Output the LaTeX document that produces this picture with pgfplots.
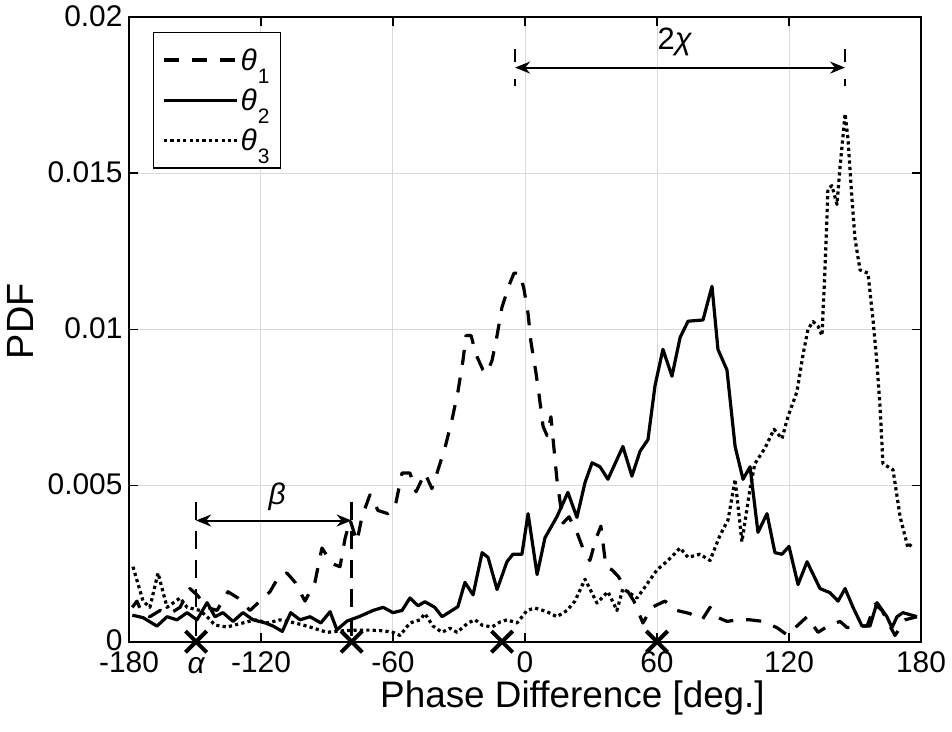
\documentclass[border=0pt]{standalone}
\usepackage{fontspec}
\setmainfont{Liberation Sans}
\usepackage{pgfplots}
\pgfplotsset{compat=1.18}
\usetikzlibrary{arrows.meta}

\newcommand{\leg}[1]{{\itshape θ}\kern1bp\raisebox{-0.45em}{\fontsize{21}{21}\selectfont #1}}

\begin{document}
\begin{tikzpicture}
\begin{axis}[
 name=ax,
 scale only axis,
 width=792bp, height=624.7bp,
 xmin=-180, xmax=180, ymin=0, ymax=0.02,
 xtick={-180,-120,-60,0,60,120,180},
 xticklabels={-180,-120,-60,0,60,120,180},
 ytick={0,0.005,0.01,0.015,0.02},
 yticklabels={0,0.005,0.01,0.015,0.02},
 scaled y ticks=false,
 tick align=inside,
 major tick length=9bp,
 ticklabel style={font=\fontsize{30}{32}\selectfont},
 yticklabel style={xshift=-3bp, yshift=1bp},
 xticklabel style={yshift=-6bp},
 xmajorgrids, ymajorgrids,
 grid style={color=black!15, line width=1bp},
 axis line style={line width=1.6bp},
 tick style={line width=1.6bp, black},
 xlabel={Phase Difference [deg.]},
 ylabel={PDF},
 xlabel style={font=\fontsize{37}{40}\selectfont, at={(axis description cs:0.56,-0.1055)}, anchor=base},
 ylabel style={font=\fontsize{38}{40}\selectfont, at={(axis description cs:-0.1376,0.513)}, anchor=center},
 clip=false,
 legend style={at={(0,1)}, anchor=north west, xshift=23.7bp, yshift=-14.7bp,
   draw=black, line width=1.5bp, font=\fontsize{30}{32}\selectfont,
   inner xsep=9bp, inner ysep=14bp, row sep=13bp, cells={anchor=west}},
 legend image code/.code={\draw[#1, line width=3.2bp] (0bp,0bp) -- (73bp,0bp);},
]

% theta_1 (dashed)
\addplot[black, line width=3.2bp, line join=round, dash pattern=on 15bp off 13bp] coordinates {
(-178.5,0.0011) (-176.4,0.0013) (-174,0.0009) (-170.5,0.0008) (-165.9,0.0010)
(-161.4,0.0009) (-156.8,0.0011) (-152.3,0.0017) (-149.1,0.0015) (-144.5,0.0011)
(-140,0.0010) (-135,0.0016) (-130.5,0.0014) (-125,0.0010) (-120.5,0.0013)
(-115.9,0.0016) (-111.8,0.0021) (-108.2,0.0022) (-104.5,0.0019) (-100,0.0013)
(-95.5,0.0019) (-92.3,0.0030) (-87.7,0.0025) (-84.1,0.0024) (-81.8,0.0033)
(-79.5,0.0039) (-76.4,0.0032) (-74.1,0.0040) (-70.5,0.0047) (-66.8,0.0042)
(-62.3,0.0041) (-59.1,0.0043) (-55.9,0.0054) (-52.3,0.0054) (-49.5,0.0048)
(-45.5,0.0054) (-42.3,0.0049) (-40,0.0054) (-36.4,0.0062) (-33.2,0.0071)
(-30.5,0.0080) (-28.2,0.0090) (-26.8,0.0098) (-24.5,0.0098) (-22.3,0.0092)
(-19.1,0.0087) (-17.3,0.0086) (-15,0.0090) (-12.7,0.0098) (-10.5,0.0107)
(-7.3,0.0114) (-5,0.0118) (-2.3,0.0118) (-0.5,0.0113) (1.4,0.0105)
(2.7,0.0096) (5,0.0086) (6.4,0.0079) (8.2,0.0069) (10,0.0066)
(11.8,0.0072) (14.5,0.0052) (17.3,0.0038) (20,0.0040) (23.6,0.0035)
(26.8,0.0029) (29.5,0.0026) (32.3,0.0033) (34.5,0.0037) (36.8,0.0024)
(39.5,0.0023) (42.3,0.0021) (45.9,0.0017) (49.5,0.0013) (53.6,0.0006)
(57.7,0.0011) (63.6,0.0013) (69.1,0.0010) (75,0.0009) (80.5,0.0007)
(84.1,0.0011) (86.8,0.0008) (91.8,0.00065) (96.8,0.0007) (102.3,0.0007)
(108.2,0.00065) (114.5,0.00045) (119.1,0.00022) (123.6,0.0005) (128.2,0.0008)
(133.2,0.0003) (137.7,0.0005) (143.2,0.00065) (146.4,0.00045) (152.3,0.0005)
(155.5,0.0005) (159.1,0.0012) (162.3,0.0010) (165.9,0.0005) (168.2,0.0002)
(172.7,0.0007) (178.2,0.0008)
};
\addlegendentry{\leg{1}}

% theta_2 (solid)
\addplot[black, line width=3.2bp, line join=round] coordinates {
(-178.5,0.00085) (-173.6,0.00077) (-167.3,0.0005) (-162.7,0.0008) (-158.2,0.0007)
(-153.6,0.00093) (-149.1,0.0007) (-144.5,0.00125) (-140.9,0.0008) (-137.3,0.00093)
(-132.7,0.00065) (-128.2,0.00093) (-123.6,0.0007) (-118,0.0006) (-114.5,0.0005)
(-110.3,0.00033) (-106.5,0.00093) (-102.3,0.0007) (-97.7,0.0008) (-92.8,0.0006)
(-88.6,0.00096) (-85.5,0.00038) (-80.9,0.00066) (-75.5,0.0008) (-69.1,0.0010)
(-64.5,0.0011) (-60,0.00093) (-55.9,0.0010) (-52.3,0.0014) (-48.6,0.00115)
(-45.5,0.00128) (-41,0.0011) (-37.7,0.0008) (-30.5,0.00112) (-27.3,0.0019)
(-23.6,0.0015) (-19.5,0.00285) (-16.8,0.0027) (-12.7,0.00167) (-8.2,0.00256)
(-5.5,0.0028) (-1.4,0.0028) (1.4,0.0041) (5.5,0.00215) (9.1,0.00333)
(14.5,0.0040) (19.5,0.00478) (23.6,0.00398) (27.3,0.0051) (30.5,0.00573)
(34.1,0.0056) (37.7,0.0052) (44.5,0.00625) (48.6,0.0053) (52.3,0.0061)
(55.9,0.00647) (59.1,0.0082) (62.7,0.00936) (66.8,0.0085) (70.5,0.00974)
(74.1,0.01026) (80.9,0.0103) (85,0.01138) (87.7,0.00936) (91.8,0.0087)
(95.5,0.00625) (99.1,0.0052) (102.3,0.0056) (105.9,0.0035) (110,0.0041)
(113.6,0.00285) (116.8,0.0028) (120,0.00305) (124.1,0.00183) (128.2,0.00256)
(134.1,0.0017) (138.6,0.00157) (142.3,0.0013) (145.5,0.0017) (149.1,0.0011)
(153.2,0.0005) (156.8,0.0005) (160,0.00125) (164.5,0.0008) (166.8,0.00045)
(169.1,0.0008) (171.8,0.00093) (178.2,0.0008)
};
\addlegendentry{\leg{2}}

% theta_3 (dotted)
\addplot[black, line width=3.2bp, line join=round, dash pattern=on 3.2bp off 3.2bp] coordinates {
(-178.2,0.0024) (-173.6,0.0013) (-170.5,0.0011) (-166.8,0.0022) (-162.7,0.0011)
(-156.8,0.0014) (-153.6,0.0011) (-147.7,0.0010) (-144.5,0.0008) (-140.9,0.00053)
(-135.5,0.00047) (-128.2,0.0006) (-122.7,0.0007) (-116.8,0.0006) (-111.4,0.0007)
(-104.5,0.0006) (-97.7,0.00047) (-90,0.0003) (-82.7,0.00035) (-76.4,0.00037)
(-70.5,0.00037) (-64.5,0.00035) (-60,0.0003) (-56.8,0.0002) (-52.3,0.0006)
(-47.7,0.0007) (-45.5,0.0009) (-41.8,0.0005) (-37.7,0.0003) (-34.1,0.00043)
(-30.9,0.0003) (-25.9,0.0006) (-22.7,0.0007) (-19.5,0.00053) (-15,0.00047)
(-11.4,0.00063) (-8.2,0.0007) (-3.6,0.0006) (0.9,0.0010) (4.5,0.00108)
(10,0.00096) (14.5,0.0008) (19.1,0.0010) (22.7,0.0013) (27.3,0.0020)
(32.7,0.00124) (37.7,0.0016) (41.8,0.0010) (44.5,0.0017) (50.9,0.0014)
(53.6,0.00166) (60,0.0023) (65,0.0026) (70.5,0.0030) (74.1,0.0027)
(79.5,0.0028) (84.1,0.0026) (88.6,0.0034) (92.3,0.0039) (95.5,0.0052)
(98.6,0.0032) (102.3,0.0049) (104.5,0.0057) (109.1,0.0062) (113.2,0.0068)
(116.8,0.0065) (119.5,0.0072) (123.6,0.0080) (126.4,0.0092) (128.6,0.0100)
(130.9,0.01025) (133.2,0.0101) (135,0.0098) (136.4,0.0120) (137.7,0.0145)
(139.5,0.0146) (141.8,0.0140) (143.2,0.0152) (145.5,0.0169) (146.8,0.0161)
(148.6,0.0142) (150,0.0129) (152.3,0.0119) (155.9,0.0118) (158.2,0.0103)
(160,0.0089) (161.4,0.0075) (162.7,0.0057) (167.3,0.0055) (170.5,0.0040)
(174.1,0.0030) (176.4,0.0032)
};
\addlegendentry{\leg{3}}

% X markers
\addplot[only marks, black, mark=x, mark size=15bp, mark options={line width=4bp}, forget plot]
 coordinates {(-149.5,0) (-78.8,0) (-10.4,0) (60,0)};

% beta annotation
\draw[line width=2.4bp, dash pattern=on 18bp off 11bp] (axis cs:-149.5,0.00448) -- (axis cs:-149.5,0);
\draw[line width=2.4bp, dash pattern=on 18bp off 11bp] (axis cs:-78.8,0.00448) -- (axis cs:-78.8,0);
\draw[line width=2bp, {Stealth[length=15bp,width=12bp]}-{Stealth[length=15bp,width=12bp]}]
 (axis cs:-149.5,0.00388) -- (axis cs:-78.8,0.00388);
\node[font=\fontsize{30}{32}\selectfont\itshape] at (axis cs:-112.7,0.00464) {β};

% 2chi annotation
\draw[line width=2.4bp, dash pattern=on 13bp off 17bp] (axis cs:-4.5,0.01896) -- (axis cs:-4.5,0.01778);
\draw[line width=2.4bp, dash pattern=on 13bp off 17bp] (axis cs:145.5,0.01896) -- (axis cs:145.5,0.01778);
\draw[line width=2bp, {Stealth[length=15bp,width=12bp]}-{Stealth[length=15bp,width=12bp]}]
 (axis cs:-4.5,0.01838) -- (axis cs:145.5,0.01838);
\node[font=\fontsize{31}{33}\selectfont] at (axis cs:68,0.0192) {2{\itshape χ}};

% alpha
\node[font=\fontsize{30}{32}\selectfont\itshape] at (axis cs:-149.5,-0.00078) {α};

\end{axis}
\pgfresetboundingbox
\path (ax.south west) ++(-129bp,-90.3bp) rectangle ++(952bp,732bp);
\end{tikzpicture}
\end{document}
